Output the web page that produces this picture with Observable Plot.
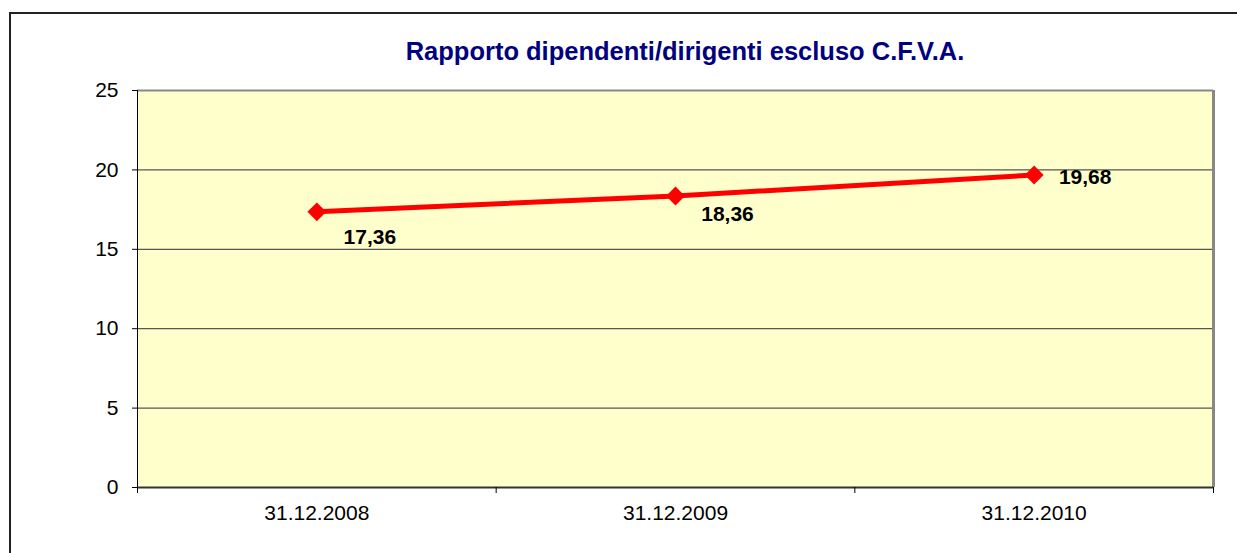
<!DOCTYPE html>
<html><head><meta charset="utf-8">
<script src="https://cdn.jsdelivr.net/npm/d3@7"></script>
<script src="https://cdn.jsdelivr.net/npm/@observablehq/plot@0.6"></script>
<style>
html,body{margin:0;padding:0;background:#fff;overflow:hidden;font-family:Arial,"Liberation Sans",sans-serif;}
#frame{position:absolute;left:9px;top:12px;width:1400px;height:700px;border-left:2px solid #222;border-top:2px solid #222;box-sizing:border-box;}
#title{position:absolute;left:0;top:36px;width:1370px;text-align:center;font-weight:bold;font-size:25.5px;line-height:30px;color:#000080;}
#chart{position:absolute;left:0;top:70px;}
</style>
</head><body>
<div id="frame"></div>
<div id="title">Rapporto dipendenti/dirigenti escluso C.F.V.A.</div>
<div id="chart"></div>
<script>
const categories = ["31.12.2008", "31.12.2009", "31.12.2010"];
const values = [17.36, 18.36, 19.68];
const valueLabels = ["17,36", "18,36", "19,68"];
const yTicks = [0, 5, 10, 15, 20, 25];

const data = categories.map((c, i) => ({pos: i + 0.5, cat: c, v: values[i], label: valueLabels[i]}));
const bounds = d3.range(categories.length + 1);

const chart = Plot.plot({
  width: 1237, height: 483,
  marginLeft: 137, marginRight: 24, marginTop: 20, marginBottom: 66,
  style: {fontFamily: "Arial, 'Liberation Sans', sans-serif", background: "transparent"},
  x: {domain: [0, categories.length], axis: null, label: null},
  y: {domain: [0, 25], axis: null, label: null},
  marks: [
    Plot.frame({fill: "#FFFFCC", stroke: null}),
    Plot.gridY(yTicks.slice(1, -1), {stroke: "#555", strokeOpacity: 1, strokeWidth: 1.2}),
    Plot.ruleY([25], {stroke: "#888", strokeWidth: 2}),
    Plot.ruleX([categories.length], {stroke: "#888", strokeWidth: 3}),
    Plot.ruleY([0], {stroke: "#333", strokeWidth: 2}),
    Plot.ruleX([0], {stroke: "#000", strokeWidth: 1}),
    Plot.axisY(yTicks, {label: null, tickSize: 5, tickPadding: 14, fontSize: 21, fill: "#000", stroke: "#000", strokeOpacity: 1}),
    Plot.axisX(bounds, {label: null, tickSize: 6, tickFormat: () => "", stroke: "#000", strokeOpacity: 1}),
    Plot.axisX(data.map(d => d.pos), {label: null, tickSize: 0, tickPadding: 18, fontSize: 21, fill: "#000", tickFormat: d => categories[Math.floor(d)]}),
    Plot.line(data, {x: "pos", y: "v", stroke: "#FF0000", strokeWidth: 5}),
    Plot.dot(data, {x: "pos", y: "v", symbol: "diamond2", r: 8.5, fill: "#FF0000", stroke: null}),
    Plot.text(data, {filter: (d, i) => i === 0, x: "pos", y: "v", text: "label", dx: 53, dy: 25, fontSize: 21, fontWeight: "bold", fill: "#000"}),
    Plot.text(data, {filter: (d, i) => i === 1, x: "pos", y: "v", text: "label", dx: 52, dy: 18, fontSize: 21, fontWeight: "bold", fill: "#000"}),
    Plot.text(data, {filter: (d, i) => i === 2, x: "pos", y: "v", text: "label", dx: 51, dy: 2, fontSize: 21, fontWeight: "bold", fill: "#000"})
  ]
});
document.getElementById("chart").appendChild(chart);
</script>
</body></html>
